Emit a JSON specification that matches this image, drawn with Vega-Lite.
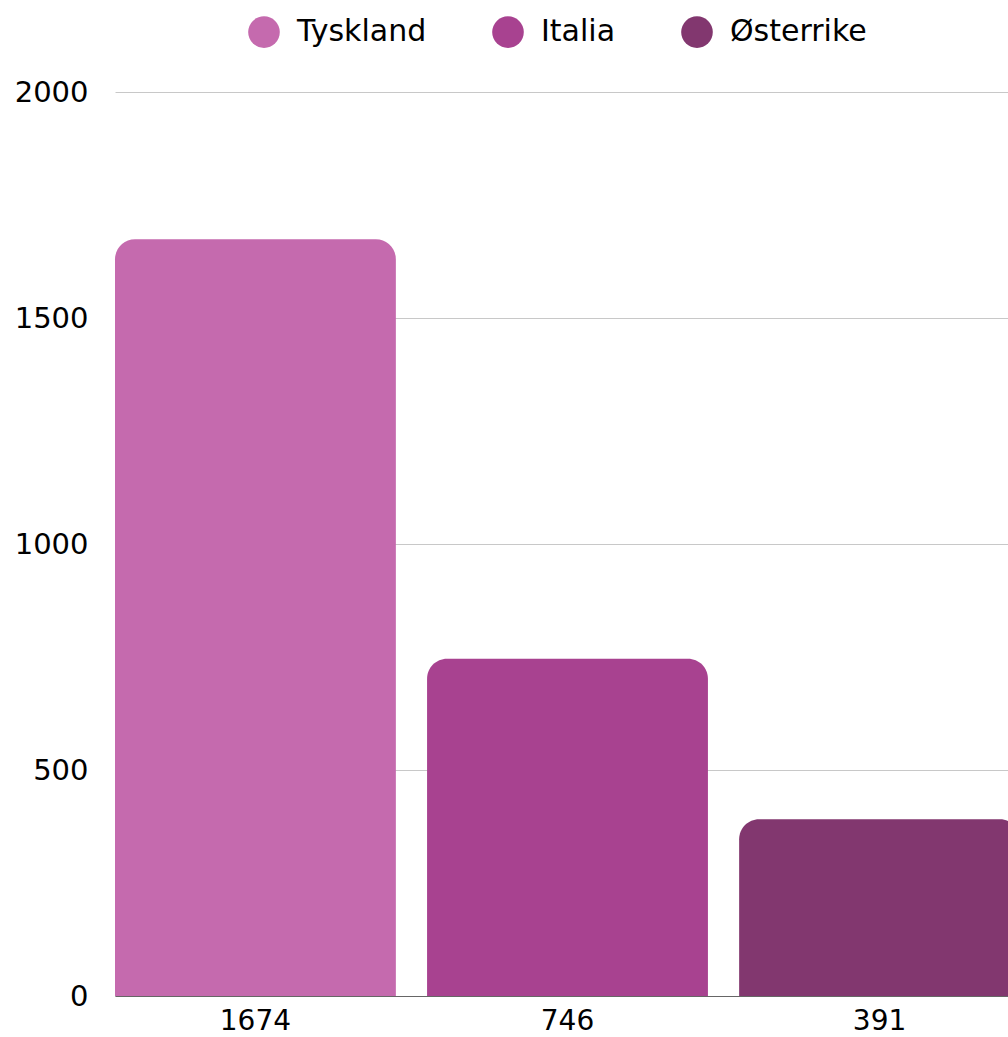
{
  "$schema": "https://vega.github.io/schema/vega-lite/v6.json",
  "width": 905,
  "height": 904,
  "autosize": {"type": "none"},
  "padding": {"left": 115, "top": 92, "right": 0, "bottom": 41},
  "config": {"font": "DejaVu Sans", "view": {"stroke": null}},
  "data": {
    "values": [
      {"land": "Tyskland", "antall": 1674},
      {"land": "Italia", "antall": 746},
      {"land": "Østerrike", "antall": 391}
    ]
  },
  "mark": {"type": "bar", "cornerRadiusTopLeft": 20, "cornerRadiusTopRight": 20},
  "encoding": {
    "x": {
      "field": "antall",
      "type": "ordinal",
      "scale": {"domain": [1674, 746, 391], "paddingInner": 0.1, "paddingOuter": 0},
      "axis": {"title": null, "labelAngle": 0, "labelFontSize": 28, "labelColor": "#000000", "labelPadding": 11, "ticks": false, "domainColor": "#666666", "grid": false}
    },
    "y": {
      "field": "antall",
      "type": "quantitative",
      "stack": null,
      "scale": {"domain": [0, 2000]},
      "axis": {"title": null, "values": [0, 500, 1000, 1500, 2000], "format": "d", "labelFontSize": 29, "labelColor": "#000000", "labelPadding": 27, "ticks": false, "domain": false, "gridColor": "#c8c8c8"}
    },
    "color": {
      "field": "land",
      "type": "nominal",
      "scale": {"domain": ["Tyskland", "Italia", "Østerrike"], "range": ["#C56AAE", "#A84290", "#82376F"]},
      "legend": {
        "title": null,
        "orient": "none",
        "legendX": 133,
        "legendY": -76,
        "direction": "horizontal",
        "symbolType": "circle",
        "symbolSize": 1000,
        "symbolStrokeWidth": 0,
        "symbolOpacity": 1,
        "labelFontSize": 30,
        "labelColor": "#000000",
        "labelOffset": 17,
        "columnPadding": 65
      }
    }
  }
}
